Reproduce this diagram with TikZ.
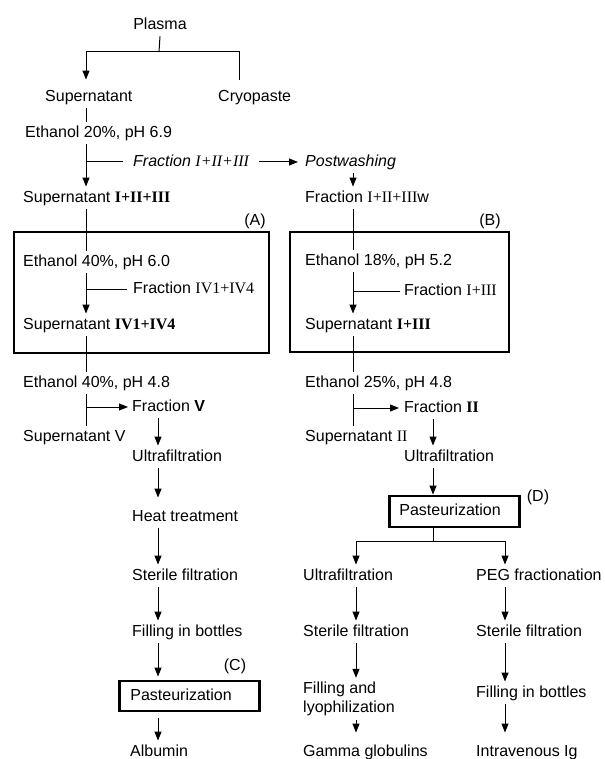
\documentclass[tikz,border=0pt]{standalone}
\usepackage{fontspec}
\setmainfont{Liberation Sans}
\newfontfamily\romfont{Liberation Serif}
\usetikzlibrary{arrows.meta}
\newcommand{\rn}[1]{{\romfont #1}}
\newcommand{\brn}[1]{{\romfont\bfseries #1}}

\begin{document}
\begin{tikzpicture}[x=1pt,y=-1pt,anchor=west,font=\fontsize{16}{19}\selectfont,
    txt/.style={inner xsep=0pt,inner ysep=4pt,text height=11.5pt,text depth=3pt},
    ln/.style={line width=1pt},
    arr/.style={ln,-{Triangle[length=9pt,width=7pt]}},
    frame/.style={line width=2.8pt},
    pbox/.style={txt,draw,frame,minimum height=30pt,align=left}]
  \useasboundingbox (0,0) rectangle (604,759);
  \coordinate (colA) at (86,0);
  \coordinate (colB) at (353,0);
  \coordinate (colC) at (158,0);
  \coordinate (colD) at (433,0);
  \coordinate (colE) at (356,0);
  \coordinate (colF) at (505,0);
  \coordinate (cryoline) at (239,0);
  %%
  \node[txt,anchor=center] (plasma) at (160,25) {Plasma};
  \node[txt] (sup) at (45,97) {Supernatant};
  \node[txt] (cryo) at (218,97) {Cryopaste};
  \coordinate (top) at (159,52);
  \draw[ln] (plasma.south) -- (top);
  \draw[arr,shorten >=6pt] (top) -| (sup.north -| colA);
  \draw[ln,shorten >=6pt] (top) -| (cryo.north -| cryoline);
  %%
  \node[txt] (eth20) at (25,133) {Ethanol 20\%, pH 6.9};
  \node[txt] (frac123) at (133,162) {\itshape Fraction \rn{I+II+III}};
  \node[txt] (post) at (305,162) {\itshape Postwashing};
  \node[txt] (sup123) at (23,198) {Supernatant \brn{I+II+III}};
  \node[txt] (frac123w) at (305,198) {Fraction \rn{I+II+III}w};
  \draw[ln] (sup.south -| colA) -- (eth20.north -| colA);
  \draw[arr] (eth20.south -| colA) -- (sup123.north -| colA);
  \draw[ln,shorten >=10pt] (colA |- frac123) -- (frac123);
  \draw[arr,shorten <=10pt,shorten >=7pt] (frac123) -- (post);
  \draw[arr] (post.south -| colB) -- (frac123w.north -| colB);
  %% box A
  \node[txt] (eth40a) at (23,262) {Ethanol 40\%, pH 6.0};
  \node[txt] (fracIV) at (133,289) {Fraction \rn{IV1+IV4}};
  \node[txt] (supIV) at (23,325) {Supernatant \brn{IV1+IV4}};
  \draw[frame] (14,232) rectangle (269,353);
  \node[txt,anchor=center] (labA) at (255,221) {(A)};
  \draw[ln] (sup123.south -| colA) -- (eth40a.north -| colA);
  \draw[arr] (eth40a.south -| colA) -- (supIV.north -| colA);
  \draw[ln,shorten >=6pt] (colA |- fracIV) -- (fracIV);
  %% box B
  \node[txt] (eth18) at (305,261) {Ethanol 18\%, pH 5.2};
  \node[txt] (frac13) at (404,291) {Fraction \rn{I+III}};
  \node[txt] (sup13) at (305,325) {Supernatant \brn{I+III}};
  \draw[frame] (290,232) rectangle (509,352);
  \node[txt,anchor=center] (labB) at (490,221) {(B)};
  \draw[ln] (frac123w.south -| colB) -- (eth18.north -| colB);
  \draw[arr] (eth18.south -| colB) -- (sup13.north -| colB);
  \draw[ln,shorten >=4pt] (colB |- frac13) -- (frac13);
  %% albumin
  \node[txt] (eth40b) at (23,383) {Ethanol 40\%, pH 4.8};
  \node[txt] (fracV) at (132,407) {Fraction \textbf{V}};
  \node[txt] (supV) at (23,437) {Supernatant V};
  \node[txt] (uf1) at (132,457) {Ultrafiltration};
  \node[txt] (heat) at (132,517) {Heat treatment};
  \node[txt] (ster1) at (132,576) {Sterile filtration};
  \node[txt] (fill1) at (132,632) {Filling in bottles};
  \node[pbox,text width=118pt,inner xsep=11pt] (pastC) at (118,696) {Pasteurization};
  \node[txt,anchor=center] (labC) at (235,666) {(C)};
  \node[txt] (alb) at (130,752) {Albumin};
  \draw[ln] (supIV.south -| colA) -- (eth40b.north -| colA);
  \draw[ln] (eth40b.south -| colA) -- (supV.north -| colA);
  \draw[arr,shorten >=4pt] (colA |- fracV) -- (fracV);
  \draw[arr] (fracV.south -| colC) -- (uf1.north -| colC);
  \draw[arr,shorten >=8pt] (uf1.south -| colC) -- (heat.north -| colC);
  \draw[arr] (heat.south -| colC) -- (ster1.north -| colC);
  \draw[arr] (ster1.south -| colC) -- (fill1.north -| colC);
  \draw[arr,shorten >=3pt] (fill1.south -| colC) -- (pastC.north -| colC);
  \draw[arr,shorten <=6pt] (pastC.south -| colC) -- (alb.north -| colC);
  %% gamma globulins
  \node[txt] (eth25) at (305,383) {Ethanol 25\%, pH 4.8};
  \node[txt] (fracII) at (404,408) {Fraction \brn{II}};
  \node[txt] (supII) at (305,437) {Supernatant \rn{II}};
  \node[txt] (uf2) at (404,457) {Ultrafiltration};
  \node[pbox,text width=110pt,inner xsep=10pt,minimum height=31pt] (pastD) at (388,511.5) {Pasteurization};
  \node[txt,anchor=center] (labD) at (538,497) {(D)};
  \draw[ln] (sup13.south -| colB) -- (eth25.north -| colB);
  \draw[ln] (eth25.south -| colB) -- (supII.north -| colB);
  \draw[arr,shorten >=5pt] (colB |- fracII) -- (fracII);
  \draw[arr] (fracII.south -| colD) -- (uf2.north -| colD);
  \draw[arr] (uf2.south -| colD) -- (pastD.north -| colD);
  \coordinate (split) at (433,541);
  \node[txt] (uf3) at (303,576) {Ultrafiltration};
  \node[txt] (peg) at (476,576) {PEG fractionation};
  \node[txt] (ster2) at (303,632) {Sterile filtration};
  \node[txt] (ster3) at (476,632) {Sterile filtration};
  \node[inner xsep=0pt,inner ysep=4pt,align=left] (fly) at (303,699) {Filling and\\lyophilization};
  \node[txt] (fill3) at (476,693) {Filling in bottles};
  \node[txt] (gamma) at (303,752) {Gamma globulins};
  \node[txt] (ivig) at (476,752) {Intravenous Ig};
  \draw[ln] (pastD.south -| colD) -- (split);
  \draw[arr] (split) -| (uf3.north -| colE);
  \draw[arr] (split) -| (peg.north -| colF);
  \draw[arr] (uf3.south -| colE) -- (ster2.north -| colE);
  \draw[arr] (ster2.south -| colE) -- (fly.north -| colE);
  \draw[arr,shorten >=8pt] (fly.south -| colE) -- (gamma.north -| colE);
  \draw[arr] (peg.south -| colF) -- (ster3.north -| colF);
  \draw[arr] (ster3.south -| colF) -- (fill3.north -| colF);
  \draw[arr,shorten >=8pt] (fill3.south -| colF) -- (ivig.north -| colF);
\end{tikzpicture}
\end{document}
